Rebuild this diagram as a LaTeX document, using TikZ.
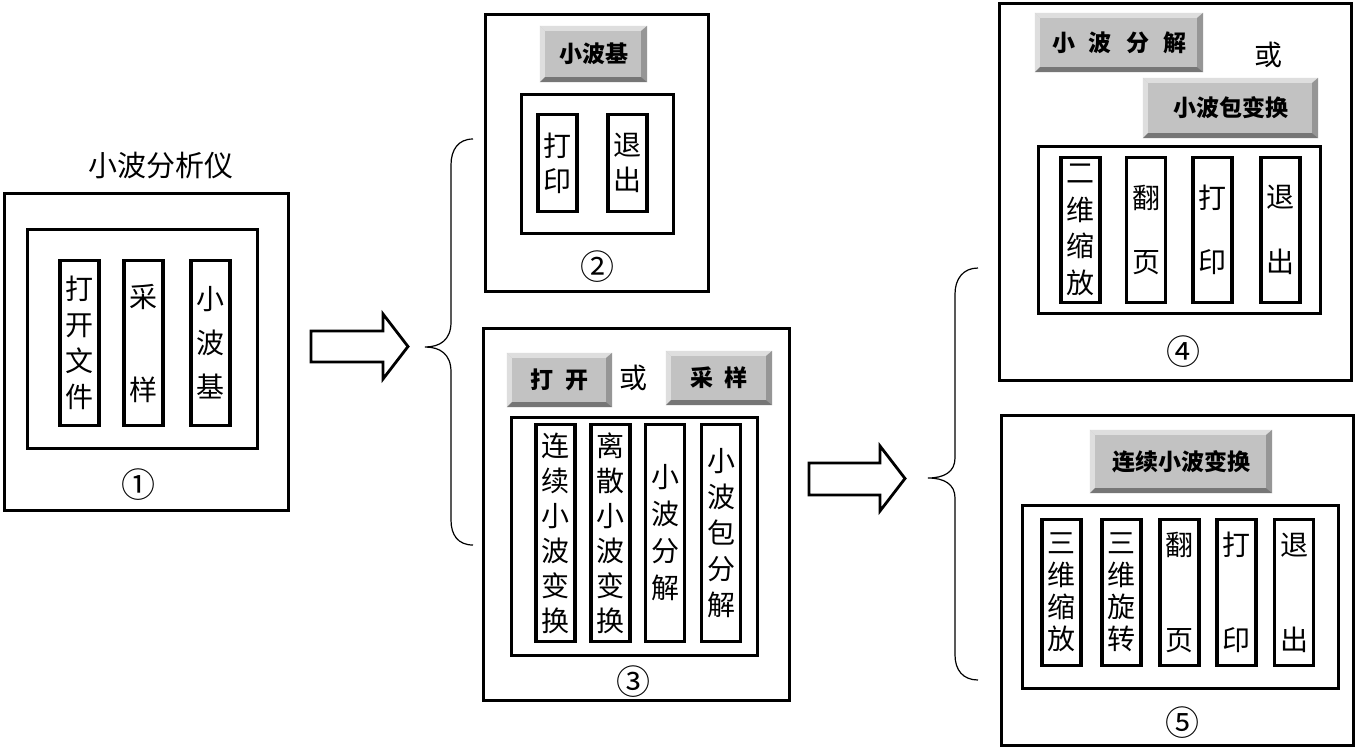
\documentclass[tikz,border=0pt]{standalone}
\usepackage{fontspec}
\setmainfont{Noto Sans CJK SC}
\definecolor{btnface}{RGB}{194,194,194}
\definecolor{btnlight}{RGB}{222,222,222}
\definecolor{btndark}{RGB}{150,150,150}
\definecolor{btnshadow}{RGB}{118,118,118}
\newcommand\bevel[1]{%
 \fill[btnlight] (#1.north west) -- (#1.north east) -- ([shift={(-5pt,-5pt)}]#1.north east) -- ([shift={(5pt,-5pt)}]#1.north west) -- cycle;
 \fill[btnlight] (#1.north west) -- ([shift={(5pt,-5pt)}]#1.north west) -- ([shift={(5pt,5pt)}]#1.south west) -- (#1.south west) -- cycle;
 \fill[btndark] (#1.north east) -- (#1.south east) -- ([shift={(-6pt,5pt)}]#1.south east) -- ([shift={(-6pt,-5pt)}]#1.north east) -- cycle;
 \fill[btnshadow] (#1.south west) -- (#1.south east) -- ([shift={(-6pt,5pt)}]#1.south east) -- ([shift={(5pt,5pt)}]#1.south west) -- cycle;}
\begin{document}
\begin{tikzpicture}[x=1pt,y=-1pt,
  box/.style={draw, line width=2.8pt, inner sep=0pt},
  col/.style={draw, line width=3.4pt, inner sep=0pt, minimum width=39pt, align=center, font=\fontsize{28}{36}\selectfont},
  btn/.style={fill=btnface, inner sep=0pt, font=\fontsize{23}{26}\selectfont\bfseries},
  lbl/.style={inner sep=0pt, font=\fontsize{28}{30}\selectfont},
  num/.style={inner sep=0pt, font=\fontsize{34}{36}\selectfont},
  bracepath/.style={line width=1.2pt},
  blockarrow/.style={draw, line width=2.8pt, fill=white, line join=miter}]
\useasboundingbox (0,0) rectangle (1357,748);
\fill[white] (0,0) rectangle (1357,748);

% ---------- Box 1 ----------
\node[lbl, font=\fontsize{29}{30}\selectfont] (title) at (161,166) {小波分析仪};
\node[box, minimum width=284pt, minimum height=317pt] (b1) at (146.5,352) {};
\node[box, minimum width=230pt, minimum height=219pt] (b1in) at (142.5,339) {};
\node[col, minimum height=165pt] (b1c1) at (79.5,343) {打\\开\\文\\件};
\node[col, minimum height=165pt, font=\fontsize{28}{93}\selectfont] (b1c2) at (143.5,343) {采\\样};
\node[col, minimum height=165pt, font=\fontsize{28}{44}\selectfont] (b1c3) at (210.5,343) {小\\波\\基};
\node[num] (n1) at (138,485) {①};

% ---------- Box 2 ----------
\node[box, minimum width=223pt, minimum height=277pt] (b2) at (597,153) {};
\node[btn, minimum width=107pt, minimum height=56pt] (b2btn) at (593.5,54) {小波基};
\bevel{b2btn}
\node[box, minimum width=152pt, minimum height=139pt] (b2in) at (597.5,164) {};
\node[col, minimum height=97pt, font=\fontsize{28}{35}\selectfont] (b2c1) at (557.5,163) {打\\印};
\node[col, minimum height=97pt, font=\fontsize{28}{35}\selectfont] (b2c2) at (627.5,163) {退\\出};
\node[num] (n2) at (597,267) {②};

% ---------- Box 3 ----------
\node[box, minimum width=306pt, minimum height=372pt] (b3) at (636.5,514.5) {};
\node[btn, minimum width=105pt, minimum height=54pt] (b3btnA) at (559.5,380) {打\hspace{12pt}开};
\bevel{b3btnA}
\node[lbl] (or3) at (633,378) {或};
\node[btn, minimum width=106pt, minimum height=54pt] (b3btnB) at (719,378) {采\hspace{12pt}样};
\bevel{b3btnB}
\node[box, minimum width=246pt, minimum height=238pt] (b3in) at (634.5,536.5) {};
\node[col, minimum height=217pt, font=\fontsize{28}{35}\selectfont] (b3c1) at (555.5,533) {连\\续\\小\\波\\变\\换};
\node[col, minimum height=217pt, font=\fontsize{28}{35}\selectfont] (b3c2) at (610.5,533) {离\\散\\小\\波\\变\\换};
\node[col, minimum height=217pt, font=\fontsize{28}{37}\selectfont] (b3c3) at (665,533) {小\\波\\分\\解};
\node[col, minimum height=217pt, font=\fontsize{28}{36}\selectfont] (b3c4) at (721,533) {小\\波\\包\\分\\解};
\node[num] (n3) at (633,682) {③};

% ---------- Box 4 ----------
\node[box, minimum width=352pt, minimum height=377pt] (b4) at (1175.5,192) {};
\node[btn, minimum width=168pt, minimum height=59pt] (b4btnA) at (1119,42.5) {小\hspace{14pt}波\hspace{14pt}分\hspace{14pt}解};
\bevel{b4btnA}
\node[lbl] (or4) at (1268,55) {或};
\node[btn, minimum width=175pt, minimum height=60pt] (b4btnB) at (1230.5,108) {小波包变换};
\bevel{b4btnB}
\node[box, minimum width=282pt, minimum height=167pt] (b4in) at (1179.5,230) {};
\node[col, minimum height=145pt, font=\fontsize{28}{36.7}\selectfont] (b4c1) at (1080.5,230) {二\\维\\缩\\放};
\node[col, minimum height=145pt, font=\fontsize{28}{64}\selectfont] (b4c2) at (1146,230) {翻\\页};
\node[col, minimum height=145pt, font=\fontsize{28}{64}\selectfont] (b4c3) at (1212.5,230) {打\\印};
\node[col, minimum height=145pt, font=\fontsize{28}{65}\selectfont] (b4c4) at (1280.5,230) {退\\出};
\node[num] (n4) at (1183,352) {④};

% ---------- Box 5 ----------
\node[box, minimum width=352pt, minimum height=330pt] (b5) at (1177.5,580.5) {};
\node[btn, minimum width=182pt, minimum height=63pt] (b5btn) at (1181,461.5) {连续小波变换};
\bevel{b5btn}
\node[box, minimum width=316pt, minimum height=183pt] (b5in) at (1180.5,597) {};
\node[col, minimum height=146pt, font=\fontsize{28}{32}\selectfont] (b5c1) at (1061.5,592.5) {三\\维\\缩\\放};
\node[col, minimum height=146pt, font=\fontsize{28}{32}\selectfont] (b5c2) at (1121.5,592.5) {三\\维\\旋\\转};
\node[col, minimum height=146pt, font=\fontsize{28}{95}\selectfont] (b5c3) at (1179.5,592.5) {翻\\页};
\node[col, minimum height=146pt, font=\fontsize{28}{95}\selectfont] (b5c4) at (1236.5,592.5) {打\\印};
\node[col, minimum height=146pt, font=\fontsize{28}{95}\selectfont] (b5c5) at (1294,592.5) {退\\出};
\node[num] (n5) at (1182,723) {⑤};

% ---------- Arrows ----------
\draw[blockarrow] (311,331) -- (383,331) -- (383,314) -- (408,346.5) -- (383,379) -- (383,362) -- (311,362) -- cycle;
\draw[blockarrow] (809,463) -- (880,463) -- (880,446) -- (905,478.5) -- (880,511) -- (880,495) -- (809,495) -- cycle;

% ---------- Braces ----------
\draw[bracepath] (473,139) .. controls (458,139) and (451,150) .. (451,165) -- (451,322)
  .. controls (451,340) and (440,347) .. (425,347)
  .. controls (440,347) and (451,354) .. (451,372) -- (451,520)
  .. controls (451,535) and (458,545) .. (473,545);
\draw[bracepath] (978,268) .. controls (963,268) and (955,279) .. (955,294) -- (955,458)
  .. controls (955,472) and (944,478) .. (928,478)
  .. controls (944,478) and (955,484) .. (955,498) -- (955,655)
  .. controls (955,670) and (963,680) .. (978,680);
\end{tikzpicture}
\end{document}
